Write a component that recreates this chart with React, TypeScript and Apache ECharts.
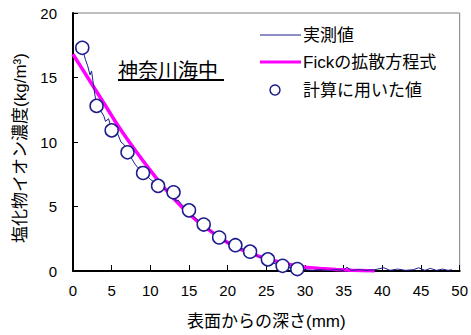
import React, { useEffect, useRef } from "react";
import * as echarts from "echarts";

// 実測値 (depth mm, chloride kg/m3)
const measuredDepth = [
  1.2, 1.6, 1.9, 2.2, 2.4, 2.7, 3.0, 3.3, 3.6, 4.0, 4.2, 4.6, 5.0, 5.4, 5.8, 6.2, 6.6, 7.0,
  7.5, 8.0, 8.4, 8.8, 9.0, 9.5, 10.0, 10.5, 11.0, 11.5, 12.0, 12.5, 13.0, 13.3, 13.6, 14.0,
  14.5, 15.0, 15.5, 16.0, 16.5, 17.0, 17.5, 18.0, 18.5, 19.0, 19.5, 20.0, 20.5, 21.0, 21.5,
  22.0, 22.5, 23.0, 23.5, 24.0, 24.5, 25.0, 25.5, 26.0, 26.5, 27.0, 27.5, 28.0, 28.5, 29.0,
  29.5, 30.0, 31.0, 32.0, 33.0, 34.0, 35.0, 35.4, 36.0, 37.0, 38.0, 39.0, 40.2, 41.0, 42.0,
  43.0, 44.0, 44.7, 45.5, 46.2, 47.0, 47.8, 48.5, 49.0
];
const measuredValue = [
  17.3, 16.4, 15.9, 15.2, 15.5, 14.2, 13.0, 12.9, 12.4, 12.0, 11.6, 11.8, 11.0, 10.7, 10.6,
  10.0, 9.8, 9.2, 8.8, 8.3, 8.0, 8.1, 7.6, 7.4, 7.1, 6.9, 6.6, 6.5, 6.3, 6.0, 6.1, 5.4, 5.5,
  5.2, 4.9, 4.7, 4.3, 4.0, 3.8, 3.6, 3.3, 3.0, 2.8, 2.6, 2.4, 2.2, 2.1, 2.0, 1.8, 1.7, 1.5,
  1.45, 1.3, 1.1, 1.0, 0.9, 0.8, 0.6, 0.5, 0.4, 0.3, 0.25, 0.2, 0.15, 0.1, 0.1, 0.05, 0.1,
  0.05, 0.1, 0.05, 0.3, 0.05, 0.1, 0.05, 0.1, 0.25, 0.05, 0.15, 0.05, 0.1, 0.25, 0.05, 0.2,
  0.05, 0.15, 0.05, 0.1
];

// Fickの拡散方程式 (fitted curve)
const fickDepth = [0, 2, 4, 6, 8, 10, 12, 14, 16, 18, 20, 22, 24, 26, 28, 30, 32, 34, 36, 38, 39];
const fickValue = [
  16.8, 14.9, 13.0, 11.1, 9.4, 7.8, 6.3, 5.0, 3.9, 3.0, 2.2, 1.6, 1.15, 0.8, 0.5, 0.3, 0.2,
  0.12, 0.06, 0.02, 0
];

// 計算に用いた値
const calcDepth = [1.2, 3.05, 5.0, 7.05, 9.06, 11.0, 13.0, 15.0, 16.9, 18.9, 21.0, 22.9, 25.2, 27.1, 29.0];
const calcValue = [17.3, 12.8, 10.9, 9.2, 7.6, 6.6, 6.1, 4.7, 3.6, 2.6, 2.0, 1.5, 0.9, 0.4, 0.15];

const xTicks = [0, 5, 10, 15, 20, 25, 30, 35, 40, 45, 50];
const yTicks = [0, 5, 10, 15, 20];

const legendNames = ["実測値", "Fickの拡散方程式", "計算に用いた値"];

const FONT = "'Liberation Sans', 'Noto Sans CJK JP', sans-serif";
const NAVY = "#1c1c8c";
const PINK = "#ff00ff";

export default function App() {
  const ref = useRef<HTMLDivElement>(null);
  useEffect(() => {
    document.body.style.margin = "0";
    if (!ref.current) return;
    const chart = echarts.init(ref.current, undefined, { renderer: "svg" });
    const zip = (a: number[], b: number[]) => a.map((v, i) => [v, b[i]]);
    const lx = 260;
    const ly = [35, 62, 90];
    chart.setOption({
      animation: false,
      backgroundColor: "#fff",
      textStyle: { fontFamily: FONT },
      grid: {
        left: 73,
        right: 10,
        top: 13,
        bottom: 62,
        show: true,
        borderColor: "#808080",
        borderWidth: 1,
      },
      xAxis: {
        type: "value",
        min: xTicks[0],
        max: xTicks[xTicks.length - 1],
        interval: 5,
        name: "表面からの深さ(mm)",
        nameLocation: "middle",
        nameGap: 42,
        nameTextStyle: { fontSize: 17, color: "#000", fontFamily: FONT },
        axisLine: { lineStyle: { color: "#000", width: 2 } },
        axisTick: { inside: true, length: 6, lineStyle: { color: "#000" } },
        axisLabel: { fontSize: 15, color: "#000", margin: 12, fontFamily: FONT },
        splitLine: { show: false },
      },
      yAxis: {
        type: "value",
        min: yTicks[0],
        max: yTicks[yTicks.length - 1],
        interval: 5,
        name: "塩化物イオン濃度(kg/m³)",
        nameLocation: "middle",
        nameGap: 33,
        nameTextStyle: {
          fontSize: 17,
          color: "#000",
          fontFamily: FONT,
          padding: [0, 12, 0, 0],
        },
        axisLine: { show: true, lineStyle: { color: "#000", width: 2 } },
        axisTick: { show: true, inside: true, length: 5, lineStyle: { color: "#000" } },
        axisLabel: { fontSize: 15, color: "#000", margin: 16, fontFamily: FONT },
        splitLine: { show: false },
      },
      graphic: [
        {
          type: "text",
          left: 118,
          top: 61,
          style: { text: "神奈川海中", fontSize: 20, fill: "#000", fontFamily: FONT },
        },
        {
          type: "line",
          shape: { x1: 118, y1: 80, x2: 224, y2: 80 },
          style: { stroke: "#000", lineWidth: 2 },
        },
        // legend
        {
          type: "line",
          shape: { x1: lx, y1: ly[0], x2: lx + 41, y2: ly[0] },
          style: { stroke: NAVY, lineWidth: 1 },
        },
        {
          type: "line",
          shape: { x1: lx, y1: ly[1], x2: lx + 41, y2: ly[1] },
          style: { stroke: PINK, lineWidth: 3 },
        },
        {
          type: "circle",
          shape: { cx: lx + 15, cy: ly[2], r: 5 },
          style: { fill: "#fff", stroke: NAVY, lineWidth: 1.5 },
        },
        ...legendNames.map((t, i) => ({
          type: "text",
          x: lx + 43,
          y: ly[i],
          style: {
            text: t,
            fontSize: 17,
            fill: "#000",
            fontFamily: FONT,
            verticalAlign: "middle",
          },
        })),
      ],
      series: [
        {
          name: legendNames[1],
          type: "line",
          data: zip(fickDepth, fickValue),
          symbol: "none",
          smooth: 0.3,
          lineStyle: { color: PINK, width: 3.5 },
          z: 2,
        },
        {
          name: legendNames[0],
          type: "line",
          data: zip(measuredDepth, measuredValue),
          symbol: "none",
          lineStyle: { color: NAVY, width: 1 },
          z: 3,
        },
        {
          name: legendNames[2],
          type: "scatter",
          data: zip(calcDepth, calcValue),
          symbol: "circle",
          symbolSize: 13,
          itemStyle: { color: "#fff", borderColor: NAVY, borderWidth: 1.5, opacity: 1 },
          z: 4,
        },
      ],
    });
    return () => chart.dispose();
  }, []);
  return <div ref={ref} style={{ width: 471, height: 335 }} />;
}
